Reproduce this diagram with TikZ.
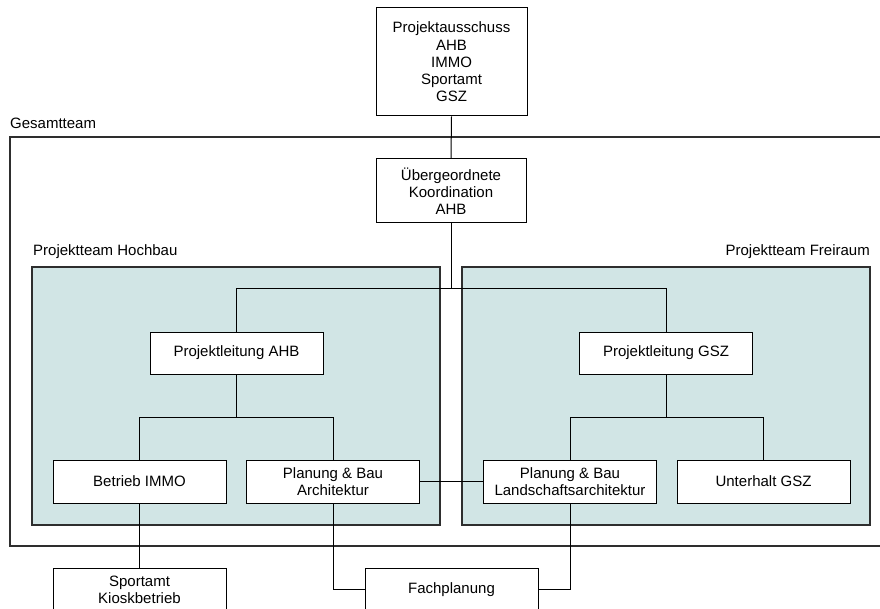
\documentclass[tikz,border=0pt]{standalone}
\usepackage{fontspec}
\setmainfont{Liberation Sans}
\definecolor{teal1}{HTML}{D1E5E5}
\definecolor{frame1}{HTML}{2E2E2E}
\begin{document}
\begin{tikzpicture}[x=1pt,y=-1pt,
  box/.style={draw=black, fill=white, line width=1pt, align=center, inner sep=0pt,
    font=\fontsize{15}{17.25}\selectfont, minimum width=173pt, minimum height=43pt},
  team/.style={draw=frame1, fill=teal1, line width=1.3pt},
  lbl/.style={inner sep=0pt, font=\fontsize{15}{17.25}\selectfont},
  conn/.style={draw=black, line width=1pt}]
\useasboundingbox (0,0) rectangle (880,609);
\clip (0,0) rectangle (880,609);
\fill[white] (0,0) rectangle (880,609);

% outer Gesamtteam frame
\draw[frame1, line width=1.3pt] (10,137) rectangle (900,546);
\node[lbl, anchor=west] (lgesamt) at (10,123) {Gesamtteam};

% team areas
\path[team] (32,267) rectangle (440,525);
\path[team] (462,267) rectangle (870,525);
\node[lbl, anchor=west] (lhoch) at (33,252) {Projektteam Hochbau};
\node[lbl, anchor=east] (lfrei) at (870,252) {Projektteam Freiraum};

% junction coordinates
\coordinate (j1) at (451,289);
\coordinate (j2) at (236,417);
\coordinate (j3) at (666,417);

% boxes
\node[box, minimum width=151pt, minimum height=108pt] (pa) at (451.5,62) {Projektausschuss\\AHB\\IMMO\\Sportamt\\GSZ};
\node[box, minimum width=150pt, minimum height=64pt] (ue) at (451,191) {Übergeordnete\\Koordination\\AHB};
\node[box, minimum height=42pt] (pla) at (236.5,353) {Projektleitung AHB};
\node[box, minimum height=42pt] (plg) at (666,353) {Projektleitung GSZ};
\node[box] (bi) at (139.5,481.5) {Betrieb IMMO};
\node[box] (ar) at (333,481.5) {Planung \& Bau\\Architektur};
\node[box] (la) at (570,481.5) {Planung \& Bau\\Landschaftsarchitektur};
\node[box] (ug) at (763.5,481.5) {Unterhalt GSZ};
\node[box] (sk) at (139.5,589.5) {Sportamt\\Kioskbetrieb};
\node[box] (fp) at (451.5,589.5) {Fachplanung};

% connectors
\draw[conn] (pa.south) -- (ue.north);
\draw[conn] (ue.south) -- (j1);
\draw[conn] (pla.north) -- (pla.north |- j1) -- (plg.north |- j1) -- (plg.north);
\draw[conn] (pla.south) -- (pla.south |- j2);
\draw[conn] (bi.north) -- (bi.north |- j2) -- (ar.north |- j2) -- (ar.north);
\draw[conn] (plg.south) -- (plg.south |- j3);
\draw[conn] (la.north) -- (la.north |- j3) -- (ug.north |- j3) -- (ug.north);
\draw[conn] (ar.east) -- (la.west);
\draw[conn] (bi.south) -- (sk.north);
\draw[conn] (ar.south) |- (fp.west);
\draw[conn] (la.south) |- (fp.east);
\end{tikzpicture}
\end{document}
